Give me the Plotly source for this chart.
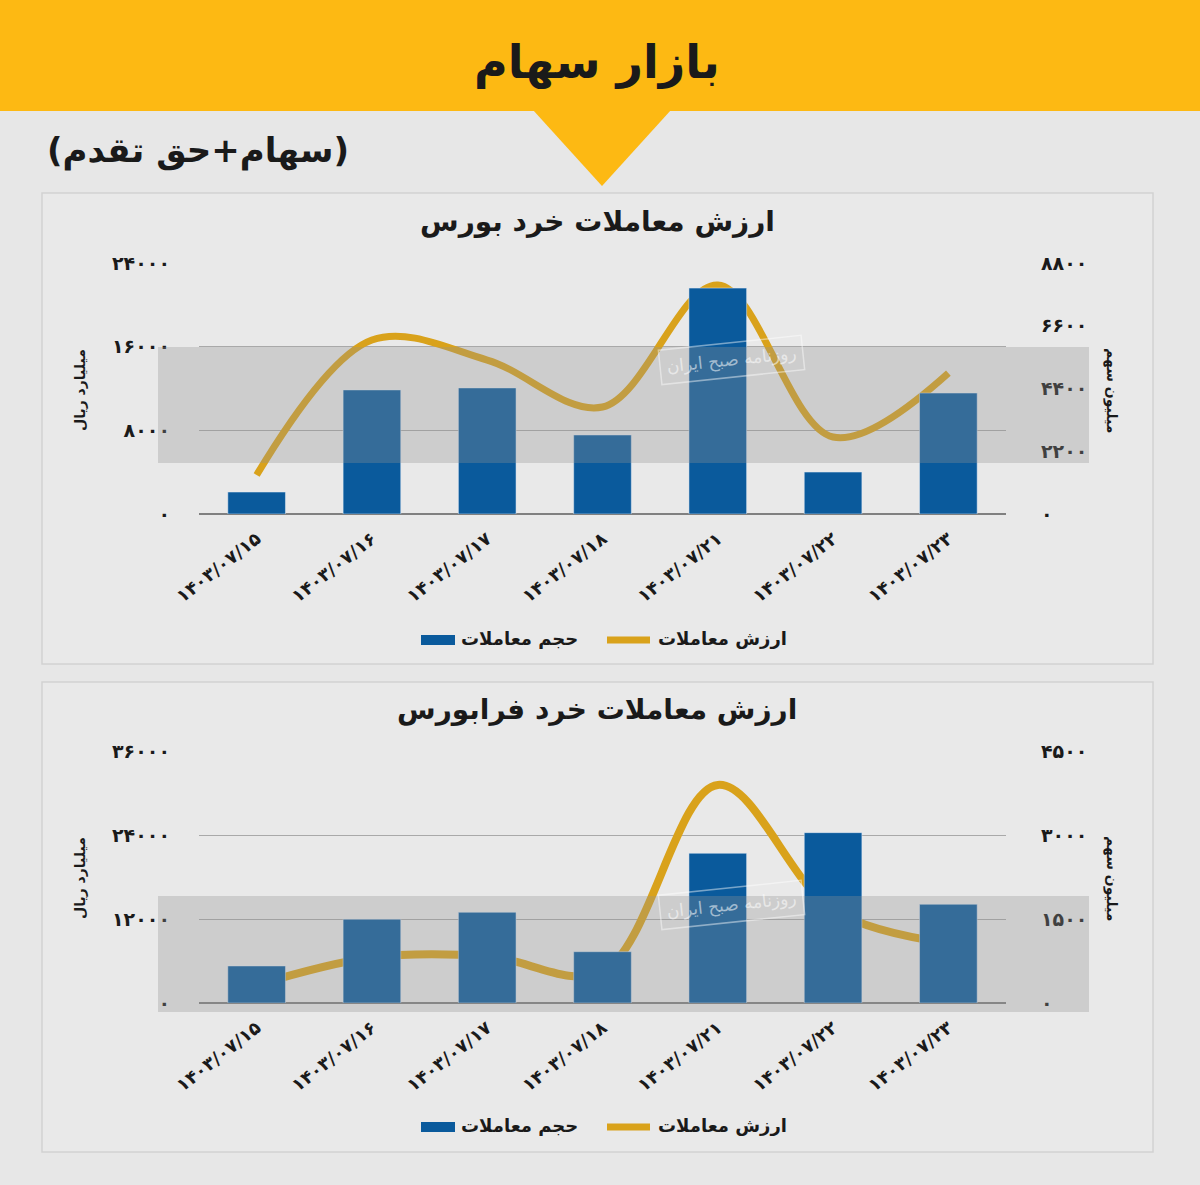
import plotly.graph_objects as go

W, H = 1200, 1185

# ---------------- data ----------------
dates = ["۱۴۰۳/۰۷/۱۵", "۱۴۰۳/۰۷/۱۶", "۱۴۰۳/۰۷/۱۷", "۱۴۰۳/۰۷/۱۸",
         "۱۴۰۳/۰۷/۲۱", "۱۴۰۳/۰۷/۲۲", "۱۴۰۳/۰۷/۲۳"]

# بورس
bourse_volume = [770, 4350, 4420, 2770, 7920, 1470, 4240]          # million shares (right axis)
bourse_value = [3730, 16640, 14720, 10230, 21900, 7360, 13480]     # billion rial (left axis)
# فرابورس
fara_volume = [661, 1495, 1620, 916, 2674, 3042, 1763]             # million shares (right axis)
fara_value = [2570, 6500, 6700, 4470, 31150, 13290, 8530]          # billion rial (left axis)

b_left_ticks = [0, 8000, 16000, 24000]
b_left_text = ["۰", "۸۰۰۰", "۱۶۰۰۰", "۲۴۰۰۰"]
b_right_ticks = [0, 2200, 4400, 6600, 8800]
b_right_text = ["۰", "۲۲۰۰", "۴۴۰۰", "۶۶۰۰", "۸۸۰۰"]
f_left_ticks = [0, 12000, 24000, 36000]
f_left_text = ["۰", "۱۲۰۰۰", "۲۴۰۰۰", "۳۶۰۰۰"]
f_right_ticks = [0, 1500, 3000, 4500]
f_right_text = ["۰", "۱۵۰۰", "۳۰۰۰", "۴۵۰۰"]

main_title = "بازار سهام"
sub_title = "(سهام+حق تقدم)"
chart1_title = "ارزش معاملات خرد بورس"
chart2_title = "ارزش معاملات خرد فرابورس"
left_unit = "میلیارد ریال"
right_unit = "میلیون سهم"
bar_name = "حجم معاملات"
line_name = "ارزش معاملات"
watermark = "روزنامه صبح ایران"

# ---------------- styles ----------------
BG = "#E7E7E7"
YELLOW = "#FDB913"
BLUE = "#0A5A9C"
GOLD = "#D9A21B"
FONT = "DejaVu Sans"
TXT = "#1a1a1a"


def px(x):
    return x / W


def py(y):
    return 1 - y / H


fig = go.Figure()

# chart 1
fig.add_trace(go.Bar(x=dates, y=bourse_volume, name=bar_name, marker_color=BLUE,
                     xaxis="x", yaxis="y2", showlegend=False))
fig.add_trace(go.Scatter(x=dates, y=bourse_value, name=line_name, mode="lines",
                         line=dict(color=GOLD, width=7, shape="spline", smoothing=1.0),
                         xaxis="x", yaxis="y", showlegend=False))
# chart 2
fig.add_trace(go.Bar(x=dates, y=fara_volume, name=bar_name, marker_color=BLUE,
                     xaxis="x2", yaxis="y4", showlegend=False))
fig.add_trace(go.Scatter(x=dates, y=fara_value, name=line_name, mode="lines",
                         line=dict(color=GOLD, width=8, shape="spline", smoothing=1.0),
                         xaxis="x2", yaxis="y3", showlegend=False))

xdom = [px(199), px(1006)]
dom1 = [py(514), py(263)]
dom2 = [py(1003), py(751)]

tickfont = dict(family=FONT, size=19, color=TXT, weight="bold")
xtickfont = dict(family=FONT, size=18, color=TXT, weight="bold")

common_x = dict(domain=xdom, type="category", tickangle=-38, tickfont=xtickfont,
                showgrid=False, showline=False, ticks="", ticklabelstandoff=10,
                automargin=False)
fig.update_layout(
    xaxis=dict(anchor="y", **common_x),
    xaxis2=dict(anchor="y3", **common_x),
    yaxis=dict(domain=dom1, range=[0, 24000], tickvals=b_left_ticks, ticktext=b_left_text,
               tickfont=tickfont, showgrid=True, gridcolor="#A9A9A9", gridwidth=1,
               zeroline=True, zerolinecolor="#808080", zerolinewidth=1.5,
               ticklabelstandoff=28, anchor="x", automargin=False),
    yaxis2=dict(domain=dom1, range=[0, 8800], tickvals=b_right_ticks, ticktext=b_right_text,
                tickfont=tickfont, showgrid=False, zeroline=False, overlaying="y",
                side="right", ticklabelstandoff=34, anchor="x", automargin=False),
    yaxis3=dict(domain=dom2, range=[0, 36000], tickvals=f_left_ticks, ticktext=f_left_text,
                tickfont=tickfont, showgrid=True, gridcolor="#A9A9A9", gridwidth=1,
                zeroline=True, zerolinecolor="#808080", zerolinewidth=1.5,
                ticklabelstandoff=28, anchor="x2", automargin=False),
    yaxis4=dict(domain=dom2, range=[0, 4500], tickvals=f_right_ticks, ticktext=f_right_text,
                tickfont=tickfont, showgrid=False, zeroline=False, overlaying="y3",
                side="right", ticklabelstandoff=34, anchor="x2", automargin=False),
    bargap=0.5,
)

shapes = []
# header band and pointer
shapes.append(dict(type="rect", xref="paper", yref="paper", x0=0, x1=1, y0=py(111), y1=py(0),
                   fillcolor=YELLOW, line=dict(width=0), layer="below"))
shapes.append(dict(type="path", xref="paper", yref="paper",
                   path=f"M {px(533)} {py(110)} L {px(671)} {py(110)} L {px(602)} {py(186)} Z",
                   fillcolor=YELLOW, line=dict(width=0), layer="below"))
# panels
for (y0, y1) in [(193, 664), (682, 1152)]:
    shapes.append(dict(type="rect", xref="paper", yref="paper", x0=px(42), x1=px(1153),
                       y0=py(y1), y1=py(y0), fillcolor="#E9E9E9",
                       line=dict(color="#D2D2D2", width=1.5), layer="below"))
# watermark bands
for (y0, y1) in [(347, 463), (896, 1012)]:
    shapes.append(dict(type="rect", xref="paper", yref="paper", x0=px(158), x1=px(1089),
                       y0=py(y1), y1=py(y0), fillcolor="rgba(145,145,145,0.32)",
                       line=dict(width=0), layer="above"))

# legends (manual)
for ly in [640, 1127]:
    shapes.append(dict(type="rect", xref="paper", yref="paper", x0=px(421), x1=px(455),
                       y0=py(ly + 5), y1=py(ly - 5), fillcolor=BLUE, line=dict(width=0)))
    shapes.append(dict(type="line", xref="paper", yref="paper", x0=px(607), x1=px(650),
                       y0=py(ly), y1=py(ly), line=dict(color=GOLD, width=7)))

annotations = []


def ann(text, x, y, size, xanchor="center", angle=0, color=TXT, bold=True, **kw):
    annotations.append(dict(text=text, x=px(x), y=py(y), xref="paper", yref="paper",
                            xanchor=xanchor, yanchor="middle", showarrow=False,
                            textangle=angle,
                            font=dict(family=FONT, size=size, color=color,
                                      weight="bold" if bold else "normal"), **kw))


ann(main_title, 597, 62, 46)
ann(sub_title, 45, 150, 34, xanchor="left")
ann(chart1_title, 597, 221, 28)
ann(chart2_title, 597, 709, 28)
for yc in [390, 878]:
    ann(left_unit, 80, yc, 14, angle=-90)
    ann(right_unit, 1112, yc, 14, angle=90)
for ly in [638, 1125]:
    ann(bar_name, 459, ly, 18, xanchor="left")
    ann(line_name, 656, ly, 18, xanchor="left")
for yc in [360, 905]:
    ann(watermark, 731, yc, 17, angle=-6, color="rgba(255,255,255,0.55)", bold=False,
        bordercolor="rgba(255,255,255,0.45)", borderwidth=1.5, borderpad=6)

fig.update_layout(
    width=W, height=H, margin=dict(l=0, r=0, t=0, b=0, autoexpand=False),
    paper_bgcolor=BG, plot_bgcolor="rgba(0,0,0,0)",
    shapes=shapes, annotations=annotations, showlegend=False,
)

fig.write_html("out.html",
               post_script="document.body.style.margin='0';"
                           "document.documentElement.style.margin='0';"
                           "document.body.style.overflow='hidden';")
